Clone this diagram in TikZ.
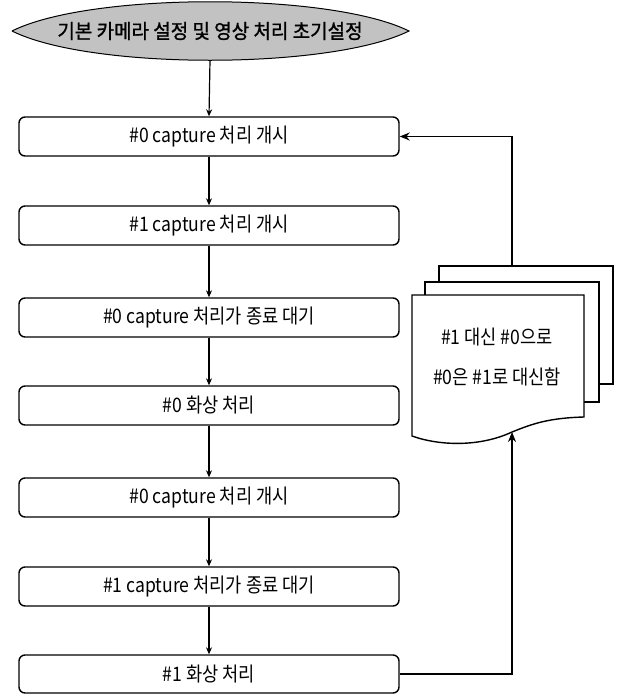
\documentclass[tikz,border=0pt]{standalone}
\usepackage{fontspec}
\newfontfamily\kr[FakeStretch=0.88]{Noto Sans CJK KR}
\newfontfamily\krt[FakeStretch=0.95,FakeBold=1.2]{Noto Sans CJK KR}
\usetikzlibrary{arrows.meta}
\tikzset{
  stepbox/.style={draw, line width=1.4pt, rounded corners=6pt, minimum width=380pt,
    minimum height=39pt, inner sep=0pt, font=\kr\fontsize{20}{24}\selectfont},
  arr/.style={-{Stealth[length=7pt,width=6pt]}, line width=1.2pt},
  arrbig/.style={-{Stealth[length=10pt,width=8pt]}, line width=1.4pt},
  page/.style={draw, line width=1.4pt, fill=white},
}
\begin{document}
\begin{tikzpicture}[x=1pt,y=-1pt]
\useasboundingbox (0,0) rectangle (619,694);
% start lens shape
\draw[line width=1pt, fill=black!24] (12,31) .. controls (90,-8) and (330,-8) .. (409,31)
  .. controls (330,70) and (90,70) .. (12,31);
\node[minimum width=398pt, minimum height=58pt, inner sep=0pt,
  font=\krt\fontsize{20}{24}\selectfont] (s) at (210,31) {기본 카메라 설정 및 영상 처리 초기설정};
% boxes
\node[stepbox] (b1) at (209,136.5) {\#0 capture 처리 개시};
\node[stepbox] (b2) at (209,225.5) {\#1 capture 처리 개시};
\node[stepbox] (b3) at (209,317.5) {\#0 capture 처리가 종료 대기};
\node[stepbox] (b4) at (209,405.5) {\#0 화상 처리};
\node[stepbox] (b5) at (209,497.5) {\#0 capture 처리 개시};
\node[stepbox] (b6) at (209,586.5) {\#1 capture 처리가 종료 대기};
\node[stepbox, minimum height=38pt] (b7) at (209,674) {\#1 화상 처리};
% document stack
\draw[page] (439,266) rectangle (613,384);
\draw[page] (425,282) rectangle (599,402);
\draw[page] (412,295) -- (584,295) -- (584,417)
  .. controls (548,418) and (532,424) .. (512,432)
  .. controls (480,447) and (440,446) .. (412,436) -- cycle;
\node[font=\kr\fontsize{20}{40}\selectfont, align=center, inner sep=0pt] (doc) at (497,357)
  {\#1 대신 \#0으로\\ \#0은 \#1로 대신함};
\coordinate (dt) at (512,266);
\coordinate (db) at (512,432);
% connectors
\draw[arr] (s.south) -- (b1.north);
\draw[arr] (b1) -- (b2);
\draw[arr] (b2) -- (b3);
\draw[arr] (b3) -- (b4);
\draw[arr] (b4) -- (b5);
\draw[arr] (b5) -- (b6);
\draw[arr] (b6) -- (b7);
\draw[arrbig] (dt) |- (b1.east);
\draw[arrbig] (b7.east) -| (db);
\end{tikzpicture}
\end{document}
